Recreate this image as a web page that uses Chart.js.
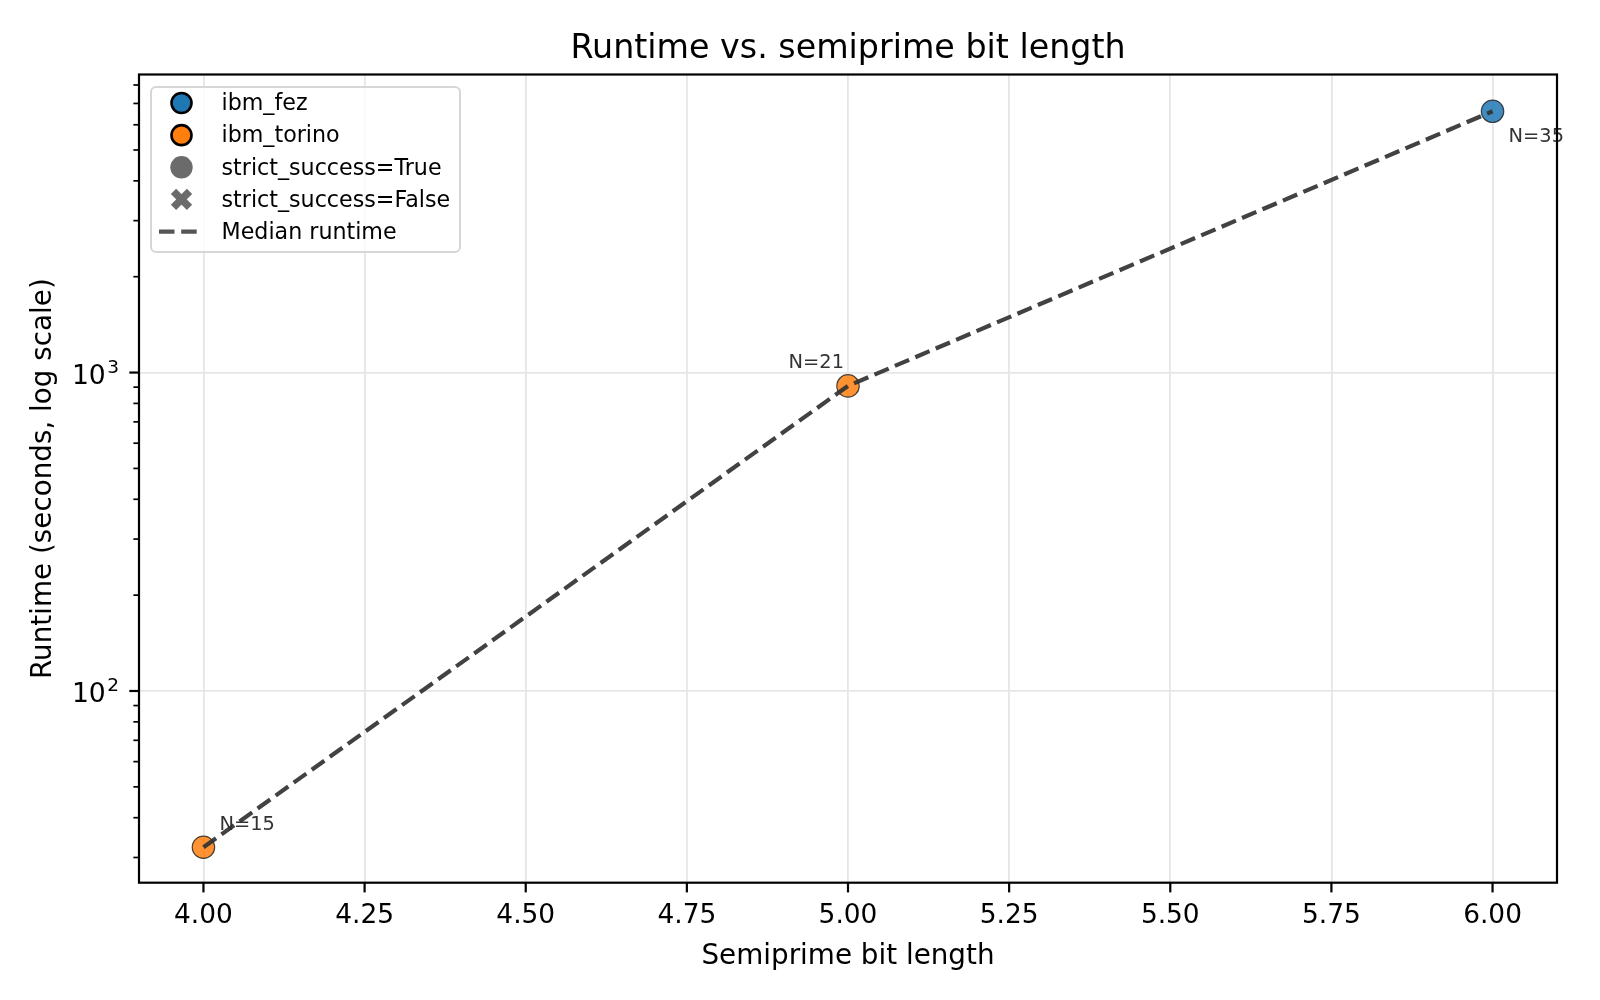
<!DOCTYPE html>
<html><head><meta charset="utf-8">
<script src="https://cdn.jsdelivr.net/npm/chart.js@4.4.1/dist/chart.umd.min.js"></script>
<style>html,body{margin:0;padding:0;background:#fff;overflow:hidden}#wrap{width:1600px;height:1000px}</style>
</head><body><div id="wrap"><canvas id="c" width="1600" height="1000"></canvas></div>
<script>
const bitLengths = [4, 5, 6];
const backends = ['ibm_torino', 'ibm_torino', 'ibm_fez'];
const runtimes = [32.3, 908, 6614];
const semiprimes = ['N=15', 'N=21', 'N=35'];
const medianRuntime = [32.3, 908, 6614];
const xTickStep = 0.25;
const yMajor = [100, 1000];
const yMajorExp = ['2', '3'];
const backendColors = {ibm_fez: 'rgba(31,119,180,0.85)', ibm_torino: 'rgba(255,127,14,0.85)'};
const legendItems = ['ibm_fez', 'ibm_torino', 'strict_success=True', 'strict_success=False', 'Median runtime'];

const FONT = "'DejaVu Sans', sans-serif";

const annot = {
  id: 'annot',
  afterDatasetsDraw(chart) {
    const {ctx, scales: {x, y}} = chart;
    ctx.save();
    ctx.font = '19.4px ' + FONT;
    ctx.fillStyle = '#333';
    const offs = [[16, -22, 'left'], [-4, -23, 'right'], [16, 26, 'left']];
    semiprimes.forEach((t, i) => {
      const px = x.getPixelForValue(bitLengths[i]), py = y.getPixelForValue(runtimes[i]);
      ctx.textAlign = offs[i][2]; ctx.textBaseline = 'middle';
      ctx.fillText(t, px + offs[i][0], py + offs[i][1]);
    });
    ctx.restore();
  },
  afterDraw(chart) {
    const {ctx, chartArea: a, scales: {x, y}} = chart;
    ctx.save();
    // tick marks
    ctx.strokeStyle = '#000';
    x.ticks.forEach(t => {
      const px = x.getPixelForValue(t.value);
      ctx.lineWidth = 2.2; ctx.beginPath(); ctx.moveTo(px, a.bottom); ctx.lineTo(px, a.bottom + 9.7); ctx.stroke();
    });
    y.ticks.forEach(t => {
      const py = y.getPixelForValue(t.value);
      const maj = yMajor.includes(t.value);
      ctx.lineWidth = maj ? 2.2 : 1.7;
      ctx.beginPath(); ctx.moveTo(a.left, py); ctx.lineTo(a.left - (maj ? 9.7 : 5.6), py); ctx.stroke();
    });
    // y major tick labels as 10 with superscript exponent
    ctx.fillStyle = '#000'; ctx.textBaseline = 'alphabetic';
    yMajor.forEach((v, i) => {
      const py = y.getPixelForValue(v);
      ctx.font = '18.5px ' + FONT; ctx.textAlign = 'right';
      const ew = ctx.measureText(yMajorExp[i]).width;
      ctx.fillText(yMajorExp[i], 119, py + 0.5);
      ctx.font = '26.6px ' + FONT;
      ctx.fillText('10', 119 - ew - 1.5, py + 11);
    });
    // title and axis titles
    ctx.fillStyle = '#000'; ctx.textAlign = 'center'; ctx.textBaseline = 'middle';
    ctx.font = '33.3px ' + FONT;
    ctx.fillText('Runtime vs. semiprime bit length', (a.left + a.right) / 2, 49);
    ctx.font = '27.8px ' + FONT;
    ctx.fillText('Semiprime bit length', (a.left + a.right) / 2, 957);
    ctx.save(); ctx.translate(44, (a.top + a.bottom) / 2); ctx.rotate(-Math.PI / 2);
    ctx.fillText('Runtime (seconds, log scale)', 0, 0); ctx.restore();
    // frame
    ctx.strokeStyle = '#000'; ctx.lineWidth = 2.2;
    ctx.strokeRect(a.left, a.top, a.right - a.left, a.bottom - a.top);
    // legend
    const lx = 151, ly = 87, lw = 309, lh = 165;
    ctx.fillStyle = 'rgba(255,255,255,0.8)'; ctx.strokeStyle = '#d6d6d6'; ctx.lineWidth = 2;
    ctx.beginPath(); ctx.roundRect(lx, ly, lw, lh, 5); ctx.fill(); ctx.stroke();
    ctx.font = '22.2px ' + FONT; ctx.textAlign = 'left'; ctx.textBaseline = 'middle';
    legendItems.forEach((t, i) => {
      const cy = 103 + i * 32.15, mx = 181.5;
      if (i < 2) {
        ctx.beginPath(); ctx.arc(mx, cy, 10, 0, Math.PI * 2);
        ctx.fillStyle = i === 0 ? '#1f77b4' : '#ff7f0e'; ctx.fill();
        ctx.strokeStyle = '#000'; ctx.lineWidth = 2.6; ctx.stroke();
      } else if (i === 2) {
        ctx.beginPath(); ctx.arc(mx, cy, 11.2, 0, Math.PI * 2);
        ctx.fillStyle = '#6b6b6b'; ctx.fill();
      } else if (i === 3) {
        ctx.strokeStyle = '#6b6b6b'; ctx.lineWidth = 7.5; ctx.lineCap = 'butt';
        ctx.beginPath(); ctx.moveTo(mx - 8, cy - 8); ctx.lineTo(mx + 8, cy + 8);
        ctx.moveTo(mx + 8, cy - 8); ctx.lineTo(mx - 8, cy + 8); ctx.stroke();
      } else {
        ctx.strokeStyle = '#555'; ctx.lineWidth = 4.2; ctx.setLineDash([15.5, 6.7]);
        ctx.beginPath(); ctx.moveTo(159, cy); ctx.lineTo(203, cy); ctx.stroke(); ctx.setLineDash([]);
      }
      ctx.fillStyle = '#000';
      ctx.fillText(t, 221.5, cy + 1.5);
    });
    ctx.restore();
  }
};

const pointData = bitLengths.map((b, i) => ({x: b, y: runtimes[i]}));
const medianData = bitLengths.map((b, i) => ({x: b, y: medianRuntime[i]}));

new Chart(document.getElementById('c'), {
  type: 'scatter',
  data: {
    datasets: [
      {
        type: 'line', label: 'Median runtime', data: medianData,
        borderColor: 'rgba(50,50,50,0.92)', borderWidth: 4.2, borderDash: [15.5, 6.7],
        pointRadius: 0, fill: false, tension: 0, order: 1
      },
      {
        label: 'points', data: pointData,
        backgroundColor: backends.map(b => backendColors[b]),
        borderColor: 'rgba(40,40,40,0.85)', borderWidth: 1.2,
        pointRadius: 11.2, pointHoverRadius: 11.2, order: 2
      }
    ]
  },
  options: {
    responsive: false, animation: false, devicePixelRatio: 1,
    layout: {padding: {top: 74.5, right: 43, left: 0, bottom: 0}},
    plugins: {legend: {display: false}, title: {display: false}, tooltip: {enabled: false}},
    scales: {
      x: {
        type: 'linear', min: 3.9, max: 6.1,
        afterBuildTicks(s) {
          const t = [];
          for (let v = 4; v <= 6.0001; v += xTickStep) t.push({value: Math.round(v * 100) / 100});
          s.ticks = t;
        },
        afterFit(s) { s.height = 117.3; },
        border: {display: false},
        grid: {color: '#e6e6e6', lineWidth: 1.8, tickColor: 'rgba(0,0,0,0)', tickLength: 10},
        ticks: {color: '#000', font: {family: FONT, size: 26.4}, padding: 8,
          callback: v => Number(v).toFixed(2)}
      },
      y: {
        type: 'logarithmic', min: 25, max: 8630,
        afterBuildTicks(s) {
          const t = [];
          for (let d = 10; d <= 10000; d *= 10)
            for (let m = 1; m <= 9; m++) {
              const v = m * d;
              if (v >= 25 && v <= 8630) t.push({value: v, major: yMajor.includes(v)});
            }
          s.ticks = t;
        },
        afterFit(s) { s.width = 139; },
        border: {display: false},
        grid: {
          color: c => (c.tick && yMajor.includes(c.tick.value)) ? '#e6e6e6' : 'rgba(0,0,0,0)',
          lineWidth: 1.8, tickColor: 'rgba(0,0,0,0)', tickLength: 10
        },
        ticks: {color: '#000', font: {family: FONT, size: 27}, padding: 9, autoSkip: false,
          callback: () => ''}
      }
    }
  },
  plugins: [annot]
});
</script></body></html>
